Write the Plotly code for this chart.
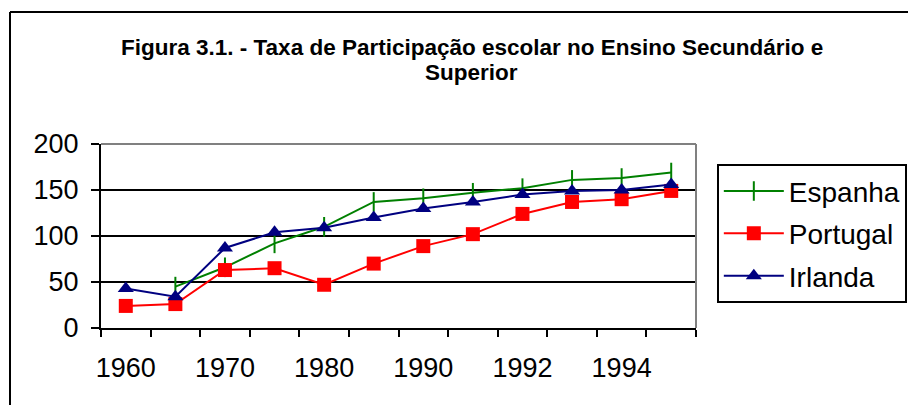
import plotly.graph_objects as go

years = ["1960", "1965", "1970", "1975", "1980", "1985", "1990", "1991", "1992", "1993", "1994", "1995"]
tick_text = ["1960", "", "1970", "", "1980", "", "1990", "", "1992", "", "1994", ""]
espanha = [None, 45, 66, 92, 110, 137, 141, 147, 152, 161, 163, 169]
portugal = [24, 26, 63, 65, 47, 70, 89, 102, 124, 137, 140, 149]
irlanda = [43, 34, 87, 104, 109, 120, 130, 137, 145, 149, 150, 156]
y_ticks = [0, 50, 100, 150, 200]

FONT = "Liberation Sans, Arial, sans-serif"

fig = go.Figure()
fig.add_trace(go.Scatter(x=years, y=espanha, name="Espanha", mode="lines+markers",
                         line=dict(color="#008000", width=2),
                         marker=dict(symbol="line-ns", size=14, line=dict(color="#008000", width=2)),
                         legendgroup="a"))
fig.add_trace(go.Scatter(x=years, y=portugal, name="Portugal", mode="lines+markers",
                         line=dict(color="#ff0000", width=2),
                         marker=dict(symbol="square", size=14, color="#ff0000"),
                         legendgroup="b"))
fig.add_trace(go.Scatter(x=years, y=irlanda, name="Irlanda", mode="lines+markers",
                         line=dict(color="#000080", width=2),
                         marker=dict(symbol="triangle-up", size=14, color="#000080"),
                         legendgroup="c"))

fig.update_layout(
    width=908, height=397,
    margin=dict(l=93, r=220, t=136, b=77, autoexpand=False),
    paper_bgcolor="white", plot_bgcolor="white",
    font=dict(family=FONT, color="black"),
    showlegend=True,
    legend=dict(x=1.035, y=0.89, xanchor="left", yanchor="top",
                bordercolor="black", borderwidth=2, bgcolor="white",
                font=dict(size=28, family=FONT), itemwidth=60,
                tracegroupgap=3, traceorder="grouped"),
    xaxis=dict(type="category", tickvals=years, ticktext=tick_text, tickangle=0, automargin=False,
               tickson="boundaries", ticks="outside", ticklen=7, tickwidth=2, tickcolor="black",
               showline=True, linecolor="black", linewidth=2, showgrid=False,
               tickfont=dict(size=27, family=FONT), range=[-0.5, 11.5], ticklabelstandoff=15),
    yaxis=dict(range=[0, 200], tickvals=y_ticks, ticks="outside", ticklen=8, tickwidth=2, automargin=False,
               tickcolor="black", showline=True, linecolor="black", linewidth=2,
               showgrid=True, gridcolor="black", gridwidth=2, zeroline=False,
               tickfont=dict(size=27, family=FONT), ticklabelstandoff=7),
    annotations=[
        dict(text="<b>Figura 3.1. - Taxa de Participação escolar no Ensino Secundário e</b>",
             xref="paper", yref="paper", x=0.6235, y=(328 - 47) / 184, xanchor="center", yanchor="middle",
             showarrow=False, font=dict(size=22.5, family=FONT)),
        dict(text="<b>Superior</b>",
             xref="paper", yref="paper", x=0.6235, y=(328 - 72) / 184, xanchor="center", yanchor="middle",
             showarrow=False, font=dict(size=22.5, family=FONT)),
    ],
    shapes=[
        dict(type="line", xref="paper", yref="paper", x0=0, x1=1, y0=1, y1=1,
             line=dict(color="#808080", width=2), layer="above"),
        dict(type="line", xref="paper", yref="paper", x0=1, x1=1, y0=0, y1=1,
             line=dict(color="#808080", width=2), layer="above"),
        dict(type="line", xref="paper", yref="paper", x0=(10 - 101) / 595, x1=(930 - 101) / 595,
             y0=(328 - 12) / 184, y1=(328 - 12) / 184, line=dict(color="black", width=2)),
        dict(type="line", xref="paper", yref="paper", x0=(10 - 101) / 595, x1=(10 - 101) / 595,
             y0=(328 - 12) / 184, y1=(328 - 420) / 184, line=dict(color="black", width=2)),
    ],
)

fig.write_html("out.html")
